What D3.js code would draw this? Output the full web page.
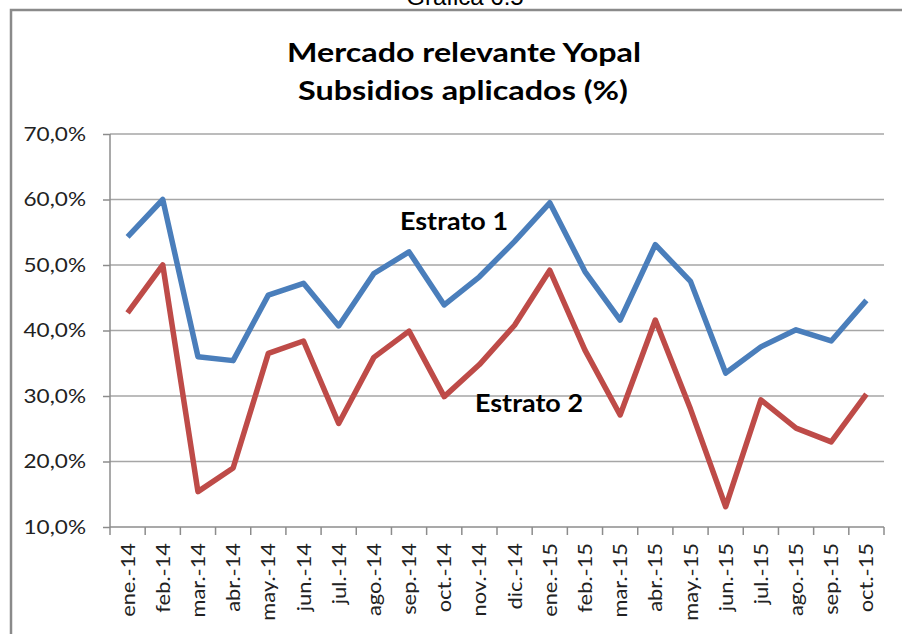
<!DOCTYPE html>
<html>
<head>
<meta charset="utf-8">
<script src="https://cdn.jsdelivr.net/npm/d3@7"></script>
<style>
  body { margin: 0; background: #fff; }
  svg { display: block; }
</style>
</head>
<body>
<svg></svg>
<script>
  // Data
  const months = ["ene.-14", "feb.-14", "mar.-14", "abr.-14", "may.-14", "jun.-14", "jul.-14",
    "ago.-14", "sep.-14", "oct.-14", "nov.-14", "dic.-14", "ene.-15", "feb.-15", "mar.-15",
    "abr.-15", "may.-15", "jun.-15", "jul.-15", "ago.-15", "sep.-15", "oct.-15"];
  const estrato1 = [54.3, 60.0, 36.0, 35.4, 45.4, 47.2, 40.7, 48.7, 52.0, 43.9, 48.2,
    53.6, 59.5, 49.0, 41.6, 53.1, 47.5, 33.5, 37.5, 40.1, 38.4, 44.6];
  const estrato2 = [42.7, 50.0, 15.4, 19.0, 36.5, 38.4, 25.8, 35.9, 39.9, 29.9, 34.8,
    40.8, 49.2, 37.0, 27.1, 41.6, 28.0, 13.1, 29.4, 25.1, 23.0, 30.3];
  const yTicks = [10, 20, 30, 40, 50, 60, 70];

  const W = 902, H = 634;
  const plot = { left: 110, right: 884, top: 134, bottom: 527 };
  const font = "Lato, sans-serif";

  let svg = d3.select("svg").attr("width", W).attr("height", H);

  // Outer frame of the chart object
  svg.append("path")
    .attr("d", `M11,${H + 5} V10 H${W + 5}`)
    .attr("fill", "none")
    .attr("stroke", "#8a8a8a")
    .attr("stroke-width", 2.5);

  // Caption above the frame (cut off by the page edge, as in the source)
  svg.append("text")
    .attr("x", 465).attr("y", 5)
    .attr("text-anchor", "middle")
    .style("font-family", "Liberation Sans, Arial, sans-serif")
    .style("font-size", "24px")
    .attr("fill", "#000")
    .text("Gráfica 6.5");

  // Title (Calibri-like: stretched to the source widths)
  const bold = (t, xx, yy, size, len, anchor) => svg.append("text")
    .attr("x", xx).attr("y", yy)
    .attr("text-anchor", anchor)
    .attr("textLength", len)
    .attr("lengthAdjust", "spacingAndGlyphs")
    .style("font-family", font)
    .style("font-weight", "bold")
    .style("font-size", size + "px")
    .attr("fill", "#000")
    .text(t);
  bold("Mercado relevante Yopal", 464, 62, 27, 354, "middle");
  bold("Subsidios aplicados (%)", 463, 100, 27, 330, "middle");

  let x = d3.scaleBand().domain(months).range([plot.left, plot.right]);
  let y = d3.scaleLinear().domain([10, 70]).range([plot.bottom, plot.top]);

  // Gridlines
  svg.append("g")
    .selectAll("line")
    .data(yTicks.slice(1))
    .enter()
    .append("line")
    .attr("x1", plot.left).attr("x2", plot.right)
    .attr("y1", d => y(d)).attr("y2", d => y(d))
    .attr("stroke", "#a6a6a6")
    .attr("stroke-width", 1.5);

  // Y axis
  const fmt = d => d3.format(".1f")(d).replace(".", ",") + "%";
  let yAxis = svg.append("g")
    .attr("transform", `translate(${plot.left},0)`)
    .call(d3.axisLeft(y).tickValues(yTicks).tickSize(7).tickPadding(0).tickFormat(fmt));
  yAxis.selectAll("line, path").attr("stroke", "#8c8c8c").attr("stroke-width", 1.5);
  yAxis.select(".domain").attr("d", `M0,${plot.top}V${plot.bottom}`);
  yAxis.selectAll("text")
    .attr("x", null)
    .attr("transform", "translate(-24,0) scale(1.13,1)")
    .style("font-family", font)
    .style("font-size", "20px")
    .attr("fill", "#222");

  // X axis: ticks between categories, as in the spreadsheet chart
  let xAxis = svg.append("g").attr("transform", `translate(0,${plot.bottom})`);
  xAxis.append("line")
    .attr("x1", plot.left).attr("x2", plot.right)
    .attr("stroke", "#8c8c8c").attr("stroke-width", 1.5);
  xAxis.selectAll(".tk")
    .data(months.map(m => x(m)).concat([plot.right]))
    .enter()
    .append("line")
    .attr("class", "tk")
    .attr("x1", d => d).attr("x2", d => d)
    .attr("y1", 0).attr("y2", 8)
    .attr("stroke", "#8c8c8c").attr("stroke-width", 1.5);
  xAxis.selectAll(".lbl")
    .data(months)
    .enter()
    .append("text")
    .attr("class", "lbl")
    .attr("transform", d => `translate(${x(d) + x.bandwidth() / 2 + 7},16) rotate(-90) scale(1.15,1)`)
    .attr("text-anchor", "end")
    .style("font-family", font)
    .style("font-size", "19px")
    .attr("fill", "#222")
    .text(d => d);

  // Series lines
  const line = d3.line()
    .x((d, i) => x(months[i]) + x.bandwidth() / 2)
    .y(d => y(d));

  svg.append("path")
    .datum(estrato1)
    .attr("d", line)
    .attr("fill", "none")
    .attr("stroke", "#4a7ebb")
    .attr("stroke-width", 5.5)
    .attr("stroke-linejoin", "round");

  svg.append("path")
    .datum(estrato2)
    .attr("d", line)
    .attr("fill", "none")
    .attr("stroke", "#be4b48")
    .attr("stroke-width", 5.5)
    .attr("stroke-linejoin", "round");

  // Series labels
  bold("Estrato 1", 400, 230, 24, 108, "start");
  bold("Estrato 2", 475, 412, 24, 108, "start");
</script>
</body>
</html>
